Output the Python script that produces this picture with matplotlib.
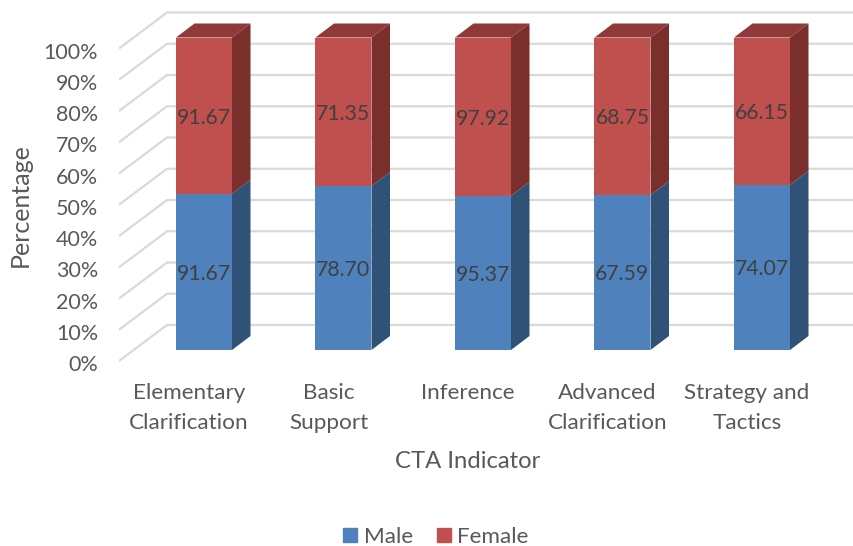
import matplotlib
matplotlib.use("Agg")
import matplotlib.pyplot as plt
from matplotlib.patches import Patch
import numpy as np

categories = ["Elementary\nClarification", "Basic\nSupport", "Inference",
              "Advanced\nClarification", "Strategy and\nTactics"]
male = [91.67, 78.70, 95.37, 67.59, 74.07]
female = [91.67, 71.35, 97.92, 68.75, 66.15]
grid_ticks = [0, 10, 20, 30, 40, 50, 60, 70, 80, 90, 100]

plt.rcParams['font.family'] = ['Lato', 'DejaVu Sans']

W, H = 854, 546
PX_X = 139.5   # pixels per category
PX_Y = 3.125   # pixels per percent
X0, Y0 = 204, 350  # pixel of first bar centre / bar base
AX_BOTTOM = 364  # pixel row of the axes bottom

# depth of the fake 3D, in data units
bar_w = 56 / PX_X
bar_dx = 18.5 / PX_X
bar_dy = 14 / PX_Y
wall_dx = (167 - 119) / PX_X
wall_back = 25 / PX_Y
wall_front = -11 / PX_Y

fig = plt.figure(figsize=(W / 100, H / 100), dpi=100)
ax = fig.add_axes([119 / W, (H - AX_BOTTOM) / H, (W - 119) / W, AX_BOTTOM / H])
ax.set_xlim((119 - X0) / PX_X, (W - X0) / PX_X)
ylim = ((Y0 - AX_BOTTOM) / PX_Y, Y0 / PX_Y)
ax.set_ylim(ylim)
for s in ax.spines.values():
    s.set_visible(False)

# walls
left = ax.get_xlim()[0]
right = ax.get_xlim()[1]
for t in grid_ticks:
    ax.plot([left, left + wall_dx, right], [t + wall_front, t + wall_back, t + wall_back],
            color="#D9D9D9", lw=1.6, zorder=1, solid_capstyle="butt", solid_joinstyle="miter")

x = np.arange(len(categories))
male = np.array(male)
female = np.array(female)
male_pct = male / (male + female) * 100
female_pct = 100 - male_pct

# front faces
ax.bar(x, male_pct, bar_w, color="#4F81BD", zorder=3, label="Male")
ax.bar(x, female_pct, bar_w, bottom=male_pct, color="#C0504D", zorder=3, label="Female")

# side and top faces
for i in x:
    xr = i + bar_w / 2
    xl = i - bar_w / 2
    ax.fill([xr, xr + bar_dx, xr + bar_dx, xr],
            [0, bar_dy, male_pct[i] + bar_dy, male_pct[i]], color="#305277", lw=0, zorder=3)
    ax.fill([xr, xr + bar_dx, xr + bar_dx, xr],
            [male_pct[i], male_pct[i] + bar_dy, 100 + bar_dy, 100], color="#7A2F2D", lw=0, zorder=3)
    ax.fill([xl, xl + bar_dx, xr + bar_dx, xr],
            [100, 100 + bar_dy, 100 + bar_dy, 100], color="#8F3A38", lw=0, zorder=3)
    ax.text(i, male_pct[i] / 2 - 0.6, f"{male[i]:.2f}", ha="center", va="center",
            fontsize=15.3, color="#404040", zorder=4)
    ax.text(i, male_pct[i] + female_pct[i] / 2 - 0.6, f"{female[i]:.2f}", ha="center", va="center",
            fontsize=15.3, color="#404040", zorder=4)

# labels sit a little under the end of each wall line
ax.set_yticks([t + wall_front - 0.7 for t in grid_ticks])
ax.set_yticklabels([f"{t}%" for t in grid_ticks], fontsize=15.5, color="#595959")
ax.set_ylim(ylim)
ax.set_xticks(x - 15 / PX_X)
ax.set_xticklabels(categories, fontsize=16.2, color="#595959", linespacing=1.6)
ax.tick_params(axis="y", length=0, pad=15)
ax.tick_params(axis="x", length=0, pad=14)

fig.text(20 / W, 1 - 205 / H, "Percentage", rotation=90, ha="center", va="center",
         fontsize=18, color="#595959")
fig.text(468 / W, 1 - 461 / H, "CTA Indicator", ha="center", va="center",
         fontsize=17.2, color="#595959")

handles = [Patch(color="#4F81BD", label="Male"), Patch(color="#C0504D", label="Female")]
fig.legend(handles=handles, loc="center", bbox_to_anchor=(436 / W, 1 - 537 / H), ncol=2,
           frameon=False, fontsize=16.2, labelcolor="#595959", handlelength=0.62, handleheight=0.62,
           handletextpad=0.3, columnspacing=1.05, borderpad=0)

fig.savefig("out.png", dpi=100)
